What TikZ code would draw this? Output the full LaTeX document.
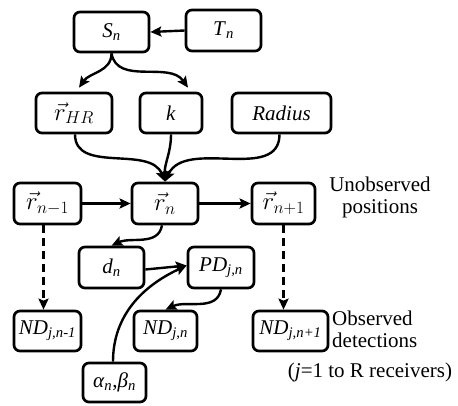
\documentclass[tikz,border=0pt]{standalone}
\usepackage{fontspec}
\setmainfont{Liberation Serif}
\usetikzlibrary{arrows.meta}
\newcommand{\isb}[2]{\textit{#1}\textsubscript{\textit{#2}}}
\begin{document}
\begin{tikzpicture}[x=1pt,y=1pt,
  box/.style={draw, line width=2.7pt, rounded corners=6pt, inner sep=0pt,
    font=\fontsize{21}{23}\selectfont},
  mbox/.style={box, font=\fontsize{25}{27}\selectfont},
  lbl/.style={inner sep=0pt, font=\fontsize{21}{22}\selectfont},
  arr/.style={line width=2.4pt, -{Stealth[length=11pt,width=10pt,inset=2pt]}},
  darr/.style={arr, dash pattern=on 8pt off 5pt}]
\useasboundingbox (0,0) rectangle (458,-405);
% nodes
\node[box, minimum width=75pt, minimum height=40pt] (Sn) at (111.5,-32) {\isb{S}{n}};
\node[box, minimum width=75pt, minimum height=41pt] (Tn) at (223.5,-30.5) {\isb{T}{n}};
\node[mbox, minimum width=76pt, minimum height=40pt] (rHR) at (74,-113) {$\vec{r}_{HR}$};
\node[box, minimum width=62pt, minimum height=40pt] (k) at (171,-113) {\textit{k}};
\node[box, minimum width=99pt, minimum height=40pt] (Rad) at (281.5,-113) {\textit{Radius}};
\node[mbox, minimum width=67pt, minimum height=41pt] (rn1) at (47.5,-203.5) {$\vec{r}_{n-1}$};
\node[mbox, minimum width=66pt, minimum height=41pt] (rn) at (165,-203.5) {$\vec{r}_{n}$};
\node[mbox, minimum width=63pt, minimum height=41pt] (rnp) at (283.5,-203.5) {$\vec{r}_{n+1}$};
\node[box, minimum width=65pt, minimum height=41pt] (dn) at (111.5,-267.5) {\isb{d}{n}};
\node[box, minimum width=66pt, minimum height=41pt] (PD) at (221,-267.5) {\isb{PD}{j,n}};
\node[box, minimum width=67pt, minimum height=40pt] (ND1) at (47.5,-331) {\isb{ND}{j,n-1}};
\node[box, minimum width=63pt, minimum height=40pt] (ND2) at (165.5,-331) {\isb{ND}{j,n}};
\node[box, minimum width=75pt, minimum height=40pt] (ND3) at (290.5,-331) {\isb{ND}{j,n+1}};
\node[box, minimum width=63pt, minimum height=39pt] (al) at (114.5,-382.5) {\isb{α}{n},\isb{β}{n}};
% labels
\node[lbl, align=center] (uo) at (380,-197) {Unobserved\\positions};
\node[lbl, align=left, anchor=west] (obs) at (332,-329) {Observed\\detections};
\node[lbl] (jr) at (370,-372) {(\textit{j}=1 to R receivers)};
% connectors
\draw[arr] (Tn.west) -- (Sn.east);
\draw[arr] (Sn.south) to[out=-90, in=55] ([xshift=5pt,yshift=4pt]rHR.north);
\draw[arr] (Sn.south) to[out=-80, in=125] ([xshift=17pt,yshift=4pt]k.north);
\draw[arr] ([xshift=1pt]rHR.south) to[out=-90, in=112] (rn.north);
\draw[arr] (k.south) to[out=-90, in=92] (rn.north);
\draw[arr] ([xshift=-2pt]Rad.south) to[out=-90, in=65] (rn.north);
\draw[arr] (rn1.east) -- (rn.west);
\draw[arr] (rn.east) -- (rnp.west);
\draw[darr] ([xshift=-4pt]rn1.south) -- ([xshift=-4pt]ND1.north);
\draw[darr] (rnp.south) -- (rnp.south |- ND3.north);
\draw[arr] ([xshift=-3pt]rn.south) to[out=-100, in=25] (dn.north);
\draw[arr] ([yshift=-2pt]dn.east) -- ([yshift=2pt]PD.west);
\draw[arr] ([xshift=-1.5pt]al.north) to[out=90, in=205] ([yshift=2pt]PD.west);
\draw[arr] (PD.south) to[out=-100, in=25] (ND2.north);
\end{tikzpicture}
\end{document}
